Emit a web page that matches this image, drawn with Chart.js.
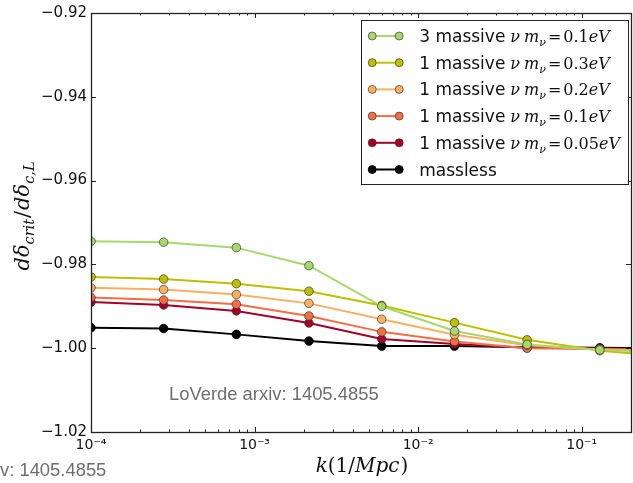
<!DOCTYPE html>
<html>
<head>
<meta charset="utf-8">
<script src="https://cdn.jsdelivr.net/npm/chart.js@4"></script>
<style>
html, body { margin: 0; padding: 0; background: #fff; overflow: hidden; }
#wrap { width: 633px; height: 483px; overflow: hidden; position: relative; }
</style>
</head>
<body>
<div id="wrap"><canvas id="chart-dcrit" width="636" height="483"></canvas></div>
<script>
// wavenumbers k (1/Mpc), log spaced
const kValues = [1.0e-4, 2.78e-4, 7.74e-4, 2.15e-3, 5.99e-3, 1.67e-2, 4.64e-2, 0.129, 0.359];

// d delta_crit / d delta_c,L for each neutrino case
const threeNu01 = [-0.9745, -0.9747, -0.9760, -0.9803, -0.9900, -0.9959, -0.9991, -1.0004, -1.0010];
const oneNu03   = [-0.9830, -0.9835, -0.9846, -0.9864, -0.9898, -0.9939, -0.9980, -1.0006, -1.0020];
const oneNu02   = [-0.9856, -0.9860, -0.9872, -0.9893, -0.9931, -0.9968, -0.9993, -1.0003, -1.0008];
const oneNu01   = [-0.9879, -0.9885, -0.9895, -0.9923, -0.9961, -0.9984, -1.0000, -1.0002, -1.0004];
const oneNu005  = [-0.9890, -0.9897, -0.9911, -0.9940, -0.9978, -0.9990, -0.9999, -1.0001, -1.0002];
const massless  = [-0.9951, -0.9953, -0.9967, -0.9983, -0.9995, -0.9995, -0.9998, -0.9999, -1.0000];

const seriesNames = ['3 massive', '1 massive', '1 massive', '1 massive', '1 massive', 'massless'];
const nuMasses = ['0.1', '0.3', '0.2', '0.1', '0.05', null];
const seriesColors = ['#a6d96a', '#bfbf00', '#fdae61', '#f46d43', '#a50026', '#000000'];
const seriesValues = [threeNu01, oneNu03, oneNu02, oneNu01, oneNu005, massless];

const yTicks = [-1.02, -1.00, -0.98, -0.96, -0.94, -0.92];
const xDecades = [1e-4, 1e-3, 1e-2, 1e-1];

const SANS = '"DejaVu Sans"';
const SERIF = '"DejaVu Serif"';
const SUP = {'-': '\u207b', '0': '\u2070', '1': '\u00b9', '2': '\u00b2', '3': '\u00b3', '4': '\u2074'};

function supText(n) {
    return String(n).split('').map(c => SUP[c]).join('');
}

// draws a run of [text, font, dy, gapAfter] pieces, returns end x
function drawRuns(ctx, runs, x, y) {
    runs.forEach(r => {
        ctx.font = r[1];
        ctx.fillText(r[0], x, y + (r[2] || 0));
        x += ctx.measureText(r[0]).width + (r[3] || 0);
    });
    return x;
}

function runsWidth(ctx, runs) {
    let w = 0;
    runs.forEach(r => { ctx.font = r[1]; w += ctx.measureText(r[0]).width + (r[3] || 0); });
    return w;
}

function massRuns(i) {
    const runs = [[seriesNames[i], '17px ' + SANS, 0, 5]];
    if (nuMasses[i] !== null) {
        runs.push(['\u03bd', 'italic 16px ' + SERIF, 0, 4]);
        runs.push(['m', 'italic 16px ' + SERIF, 0, 0]);
        runs.push(['\u03bd', 'italic 11px ' + SERIF, 4, 2]);
        runs.push(['=', '16px ' + SERIF, 0, 2]);
        runs.push([nuMasses[i], '16px ' + SERIF, 0, 0]);
        runs.push(['eV', 'italic 16px ' + SERIF, 0, 0]);
    }
    return runs;
}

// boxed axes with inward ticks, like a matplotlib frame
const framePlugin = {
    id: 'frame',
    afterDatasetsDraw(chart) {
        const {ctx, chartArea: a, scales: {x, y}} = chart;
        ctx.save();
        ctx.strokeStyle = '#222';
        ctx.lineWidth = 1;
        ctx.beginPath();
        xDecades.forEach(d => {
            for (let m = 1; m <= 9; m++) {
                const v = d * m;
                if (v < x.min || v > x.max) continue;
                const px = Math.round(x.getPixelForValue(v)) + 0.5;
                const len = m === 1 ? 5 : 2.5;
                ctx.moveTo(px, a.bottom); ctx.lineTo(px, a.bottom - len);
                ctx.moveTo(px, a.top); ctx.lineTo(px, a.top + len);
            }
        });
        yTicks.forEach(v => {
            const py = Math.round(y.getPixelForValue(v)) + 0.5;
            ctx.moveTo(a.left, py); ctx.lineTo(a.left + 5, py);
            ctx.moveTo(a.right, py); ctx.lineTo(a.right - 5, py);
        });
        ctx.stroke();
        ctx.lineWidth = 1.3;
        ctx.strokeRect(Math.round(a.left) + 0.5, Math.round(a.top) + 0.5,
            Math.round(a.right - a.left), Math.round(a.bottom - a.top));
        ctx.restore();
    }
};

// framed legend, line with a marker at each end
const legendPlugin = {
    id: 'massLegend',
    afterDraw(chart) {
        const {ctx, chartArea: a} = chart;
        const rowH = 26.7;
        let textW = 0;
        seriesNames.forEach((s, i) => { textW = Math.max(textW, runsWidth(ctx, massRuns(i))); });
        const boxW = 58 + textW + 8;
        const boxH = rowH * seriesNames.length + 4;
        const right = 628, top = a.top + 7;
        const left = right - boxW;
        ctx.save();
        ctx.fillStyle = '#fff';
        ctx.fillRect(left, top, boxW, boxH);
        ctx.strokeStyle = '#222';
        ctx.lineWidth = 1;
        ctx.strokeRect(Math.round(left) + 0.5, Math.round(top) + 0.5, Math.round(boxW), Math.round(boxH));
        chart.data.datasets.forEach((ds, i) => {
            const cy = top + 16 + i * rowH;
            ctx.strokeStyle = ds.borderColor;
            ctx.lineWidth = 2;
            ctx.beginPath();
            ctx.moveTo(left + 11, cy); ctx.lineTo(left + 38, cy);
            ctx.stroke();
            [left + 11, left + 38].forEach(px => {
                ctx.beginPath();
                ctx.arc(px, cy, 4, 0, Math.PI * 2);
                ctx.fillStyle = ds.pointBackgroundColor;
                ctx.fill();
                ctx.lineWidth = 0.8;
                ctx.strokeStyle = ds.pointBorderColor;
                ctx.stroke();
            });
            ctx.fillStyle = '#111';
            ctx.textBaseline = 'alphabetic';
            drawRuns(ctx, massRuns(i), left + 58, cy + 6);
        });
        ctx.restore();
    }
};

// axis titles with sub/superscripts and the arxiv notes
const textPlugin = {
    id: 'titles',
    afterDraw(chart) {
        const {ctx} = chart;
        ctx.save();
        ctx.fillStyle = '#111';
        ctx.textBaseline = 'alphabetic';

        const yRuns = [
            ['d\u03b4', 'italic 21px ' + SERIF, 0, 0],
            ['crit', 'italic 14.5px ' + SERIF, 5, 1],
            ['/', '21px ' + SERIF, 0, 1],
            ['d\u03b4', 'italic 21px ' + SERIF, 0, 0],
            ['c,L', 'italic 14.5px ' + SERIF, 5, 0]
        ];
        const yw = runsWidth(ctx, yRuns);
        ctx.translate(22, 216);
        ctx.rotate(-Math.PI / 2);
        drawRuns(ctx, yRuns, -yw / 2, 7);
        ctx.setTransform(1, 0, 0, 1, 0, 0);

        const xRuns = [
            ['k', 'italic 20px ' + SERIF, 0, 0],
            ['(1/', '20px ' + SERIF, 0, 0],
            ['Mpc', 'italic 20px ' + SERIF, 0, 1],
            [')', '20px ' + SERIF, 0, 0]
        ];
        const xw = runsWidth(ctx, xRuns);
        drawRuns(ctx, xRuns, 362 - xw / 2, 472);

        ctx.fillStyle = '#6e6e6e';
        ctx.font = '18.4px "Liberation Sans"';
        ctx.fillText('LoVerde arxiv: 1405.4855', 169, 400);
        ctx.fillText('v: 1405.4855', 0, 476);
        ctx.restore();
    }
};

new Chart(document.getElementById('chart-dcrit').getContext('2d'), {
    type: 'line',
    data: {
        datasets: seriesValues.map((vals, i) => ({
            label: seriesNames[i] + (nuMasses[i] ? ' \u03bd m\u03bd=' + nuMasses[i] + 'eV' : ''),
            data: kValues.map((k, j) => ({x: k, y: vals[j]})),
            borderColor: seriesColors[i],
            backgroundColor: seriesColors[i],
            pointBackgroundColor: seriesColors[i],
            pointBorderColor: i === 5 ? '#000' : 'rgba(50,50,50,0.85)',
            pointBorderWidth: 0.8,
            pointRadius: 4.3,
            borderWidth: 2,
            tension: 0
        }))
    },
    options: {
        responsive: false,
        animation: false,
        layout: {padding: {top: 10, right: 1, left: 0, bottom: 0}},
        plugins: {
            legend: {display: false},
            tooltip: {enabled: false}
        },
        scales: {
            x: {
                type: 'logarithmic',
                min: 1e-4,
                max: 0.2,
                grid: {display: false, drawTicks: false},
                border: {display: false},
                afterBuildTicks: s => { s.ticks = xDecades.map(v => ({value: v, major: true})); },
                afterFit: s => { s.height = 51; },
                ticks: {
                    autoSkip: false,
                    maxRotation: 0,
                    padding: 5,
                    color: '#111',
                    font: {family: 'DejaVu Sans', size: 14},
                    callback: v => '10' + supText(Math.round(Math.log10(v)))
                }
            },
            y: {
                min: -1.02,
                max: -0.92,
                grid: {display: false, drawTicks: false},
                border: {display: false},
                afterBuildTicks: s => { s.ticks = yTicks.map(v => ({value: v})); },
                afterFit: s => { s.width = 91; },
                ticks: {
                    padding: 4,
                    color: '#111',
                    font: {family: 'DejaVu Sans', size: 15},
                    callback: v => '\u2212' + Math.abs(v).toFixed(2)
                }
            }
        }
    },
    plugins: [framePlugin, legendPlugin, textPlugin]
});
</script>
</body>
</html>
